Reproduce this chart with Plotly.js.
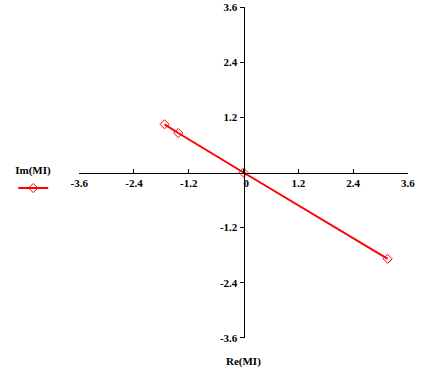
<!DOCTYPE html>
<html><head><meta charset="utf-8">
<script src="https://cdn.plot.ly/plotly-3.0.1.min.js"></script>
<style>body{margin:0;background:#fff}#c{width:426px;height:373px}</style>
</head><body><div id="c"></div>
<script>
const reMI = [-1.73, -1.43, 0, 3.16];
const imMI = [1.05, 0.86, 0, -1.88];
const xTicks = [-3.6, -2.4, -1.2, 0, 1.2, 2.4, 3.6];
const yTicks = [-3.6, -2.4, -1.2, 1.2, 2.4, 3.6];
const seriesName = 'Im(MI)';
const xTitle = 'Re(MI)';

const font = {family: 'Liberation Serif, Times New Roman, serif', size: 11, color: '#000'};
const lab = v => '<b>' + (v === 0 ? '\u00a0\u00a0' + v : v) + '</b>';

Plotly.newPlot('c', [{
  x: reMI, y: imMI, type: 'scatter', mode: 'lines+markers', name: ' ',
  line: {color: '#ff0000', width: 2},
  marker: {symbol: 'diamond-open', size: 7, color: '#ff0000', line: {width: 1}}
}], {
  width: 426, height: 373,
  margin: {l: 79, r: 18, t: 7, b: 35},
  paper_bgcolor: '#fff', plot_bgcolor: '#fff',
  font: font,
  showlegend: true,
  legend: {x: -0.2, xanchor: 'left', y: 0.54, yanchor: 'top', bgcolor: 'rgba(0,0,0,0)',
    title: {text: '<b>' + seriesName + '</b>', side: 'top', font: font},
    itemwidth: 30, font: font, tracegroupgap: 0},
  xaxis: {range: [-3.605, 3.605], anchor: 'free', position: 0.5, showgrid: false, zeroline: false,
    showline: true, linecolor: '#000', linewidth: 1, ticks: 'inside', ticklen: 4, tickcolor: '#000',
    ticklabeloverflow: 'allow',
    tickvals: xTicks, ticktext: xTicks.map(lab), tickfont: font, fixedrange: true},
  yaxis: {range: [-3.605, 3.605], anchor: 'free', position: 0.5, showgrid: false, zeroline: false,
    showline: true, linecolor: '#000', linewidth: 1, ticks: 'outside', ticklen: 4, tickcolor: '#000',
    ticklabeloverflow: 'allow',
    tickvals: yTicks, ticktext: yTicks.map(lab), tickfont: font, fixedrange: true},
  annotations: [{text: '<b>' + xTitle + '</b>', xref: 'paper', yref: 'paper', x: 0.5, y: -0.045,
    yanchor: 'top', showarrow: false, font: font}]
}, {staticPlot: true});
</script></body></html>
